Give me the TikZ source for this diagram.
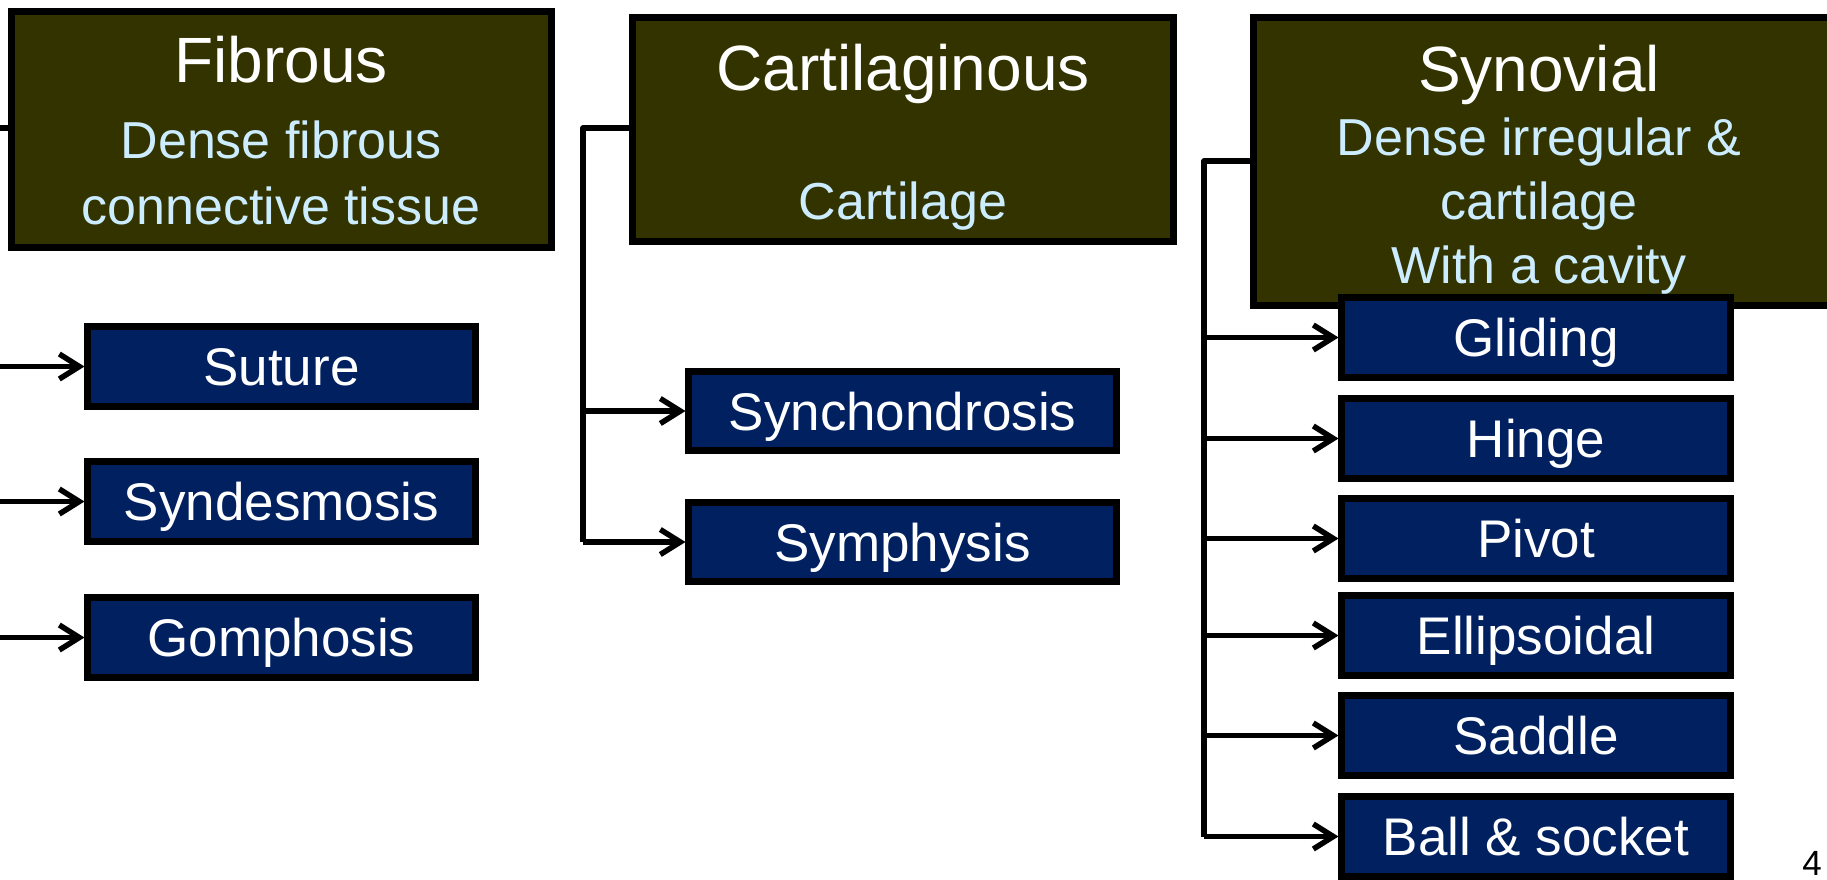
\documentclass[tikz,border=0pt]{standalone}
\usepackage{fontspec}
\setmainfont{Liberation Sans}
\usetikzlibrary{arrows.meta}
\definecolor{olivebox}{RGB}{51,51,0}
\definecolor{navybox}{RGB}{0,32,96}
\definecolor{subtxt}{RGB}{204,236,255}
\begin{document}
\begin{tikzpicture}[x=1pt,y=-1pt,
  catbox/.style={draw=black, line width=7pt, fill=olivebox, inner sep=0pt, outer sep=0pt, anchor=north west},
  typebox/.style={draw=black, line width=7pt, fill=navybox, inner sep=0pt, outer sep=0pt, text=white,
    font=\fontsize{53}{60}\selectfont, text height=38pt, text depth=0pt, anchor=north west},
  ttl/.style={text=white, font=\fontsize{64}{70}\selectfont, anchor=base, inner sep=0pt},
  subttl/.style={text=subtxt, font=\fontsize{52}{60}\selectfont, anchor=base, inner sep=0pt},
  conn/.style={line width=5.5pt, line join=round},
  arr/.style={line width=5.5pt, -{Straight Barb[length=20pt, width=25pt]}, shorten >=3pt}]
\useasboundingbox (0,0) rectangle (1827,879);
\clip (0,0) rectangle (1827,879);
\fill[white] (0,0) rectangle (1827,879);
% category boxes
\node[catbox, minimum width=540pt, minimum height=236pt] (fib) at (11.5,11.5) {};
\node[catbox, minimum width=541pt, minimum height=224pt] (cart) at (632.5,17.5) {};
\node[catbox, minimum width=583pt, minimum height=288pt] (syn) at (1253.5,17.5) {};
% titles
\node[ttl] (fibT) at (281,82) {Fibrous};
\node[subttl] (fibS1) at (281,158) {Dense fibrous};
\node[subttl] (fibS2) at (281,224) {connective tissue};
\node[ttl] (cartT) at (903,90) {Cartilaginous};
\node[subttl] (cartS) at (903,219) {Cartilage};
\node[ttl] (synT) at (1539,91) {Synovial};
\node[subttl] (synS1) at (1539,155) {Dense irregular \&};
\node[subttl] (synS2) at (1539,219) {cartilage};
\node[subttl] (synS3) at (1539,283) {With a cavity};
% type boxes
\node[typebox, minimum width=388pt, minimum height=80pt] (sut) at (87.5,326.5) {Suture};
\node[typebox, minimum width=388pt, minimum height=80pt] (synd) at (87.5,461.5) {Syndesmosis};
\node[typebox, minimum width=388pt, minimum height=80pt] (gomp) at (87.5,597.5) {Gomphosis};
\node[typebox, minimum width=428pt, minimum height=79pt] (synch) at (688.5,371.5) {Synchondrosis};
\node[typebox, minimum width=428pt, minimum height=79pt] (symph) at (688.5,502.5) {Symphysis};
\node[typebox, minimum width=389pt, minimum height=80pt] (glid) at (1341.5,297.5) {Gliding};
\node[typebox, minimum width=389pt, minimum height=80pt] (hing) at (1341.5,398.5) {Hinge};
\node[typebox, minimum width=389pt, minimum height=80pt] (piv) at (1341.5,498.5) {Pivot};
\node[typebox, minimum width=389pt, minimum height=80pt] (ell) at (1341.5,595.5) {Ellipsoidal};
\node[typebox, minimum width=389pt, minimum height=80pt] (sad) at (1341.5,695.5) {Saddle};
\node[typebox, minimum width=389pt, minimum height=80pt] (ball) at (1341.5,796.5) {Ball \& socket};
% trunks
\coordinate (fT) at (-20,128);
\coordinate (cT) at (583,128);
\coordinate (sT) at (1204,161);
\draw[conn] (fib.west |- fT) -- (fT) -- (fT |- gomp.west);
\draw[conn] (cart.west |- cT) -- (cT) -- (cT |- symph.west);
\draw[conn] (syn.west |- sT) -- (sT) -- (sT |- ball.west);
\foreach \b in {sut,synd,gomp} \draw[arr] (fT |- \b.west) -- (\b.west);
\foreach \b in {synch,symph} \draw[arr] (cT |- \b.west) -- (\b.west);
\foreach \b in {glid,hing,piv,ell,sad,ball} \draw[arr] (sT |- \b.west) -- (\b.west);
% page number
\node[font=\fontsize{35}{35}\selectfont, anchor=base, inner sep=0pt] (pg) at (1812,875) {4};
\end{tikzpicture}
\end{document}
